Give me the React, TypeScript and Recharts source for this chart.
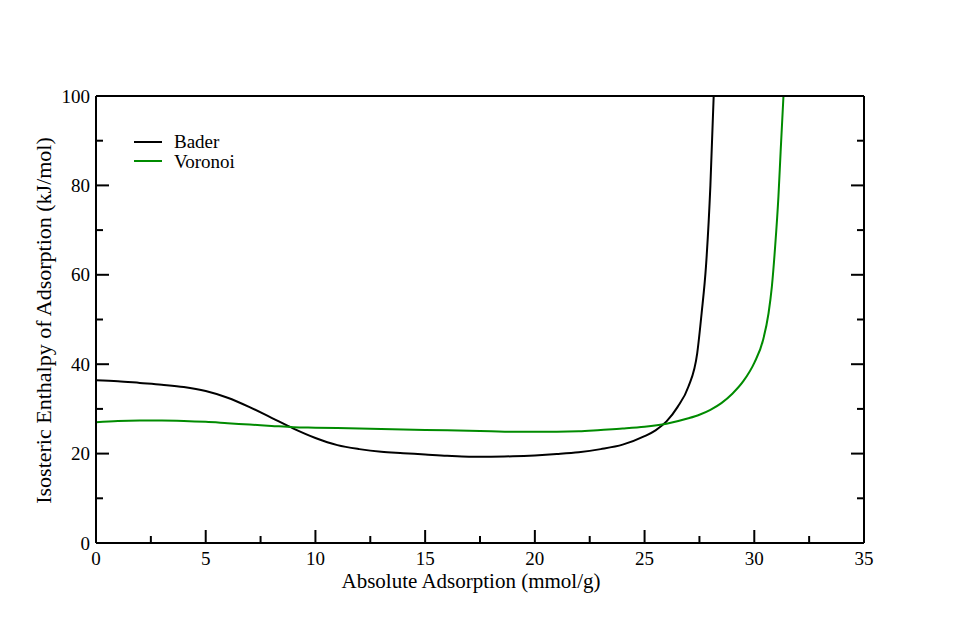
import { Label, Legend, Line, LineChart, XAxis, YAxis } from "recharts";

// Bader curve (mmol/g, kJ/mol)
const baderX = [0, 1, 2, 3, 4, 5, 6, 7, 8, 9, 10, 11, 12, 13, 14, 15, 16, 17, 18, 19, 20, 21, 22, 23, 24, 25, 25.5, 26, 26.5, 27, 27.4, 27.6, 27.8, 28, 28.15];
const baderY = [36.4, 36.2, 35.8, 35.4, 34.9, 34.0, 32.5, 30.4, 28.0, 25.6, 23.5, 21.9, 21.0, 20.4, 20.1, 19.8, 19.5, 19.3, 19.3, 19.4, 19.6, 19.9, 20.3, 21.0, 22.0, 23.9, 25.2, 27.2, 30.4, 35.0, 42.5, 51.4, 62.0, 80.0, 100];

// Voronoi curve
const voronoiX = [0, 1, 2, 3, 4, 5, 6, 7, 8, 9, 10, 11, 12, 13, 14, 15, 16, 17, 18, 19, 20, 21, 22, 23, 24, 25, 26, 27, 27.5, 28, 28.5, 29, 29.5, 30, 30.4, 30.65, 30.8, 30.95, 31.1, 31.2, 31.33];
const voronoiY = [27.0, 27.3, 27.4, 27.4, 27.3, 27.1, 26.8, 26.5, 26.2, 25.9, 25.8, 25.7, 25.6, 25.5, 25.4, 25.3, 25.2, 25.1, 25.0, 24.9, 24.9, 24.9, 25.0, 25.3, 25.6, 26.0, 26.7, 27.9, 28.7, 29.8, 31.3, 33.4, 36.2, 40.3, 45.4, 51.4, 57.3, 66.3, 77.5, 87.5, 100];

const xMajorTicks = [0, 5, 10, 15, 20, 25, 30, 35];
const xMinorTicks = [2.5, 7.5, 12.5, 17.5, 22.5, 27.5, 32.5];
const yMajorTicks = [0, 20, 40, 60, 80, 100];
const yMinorTicks = [10, 30, 50, 70, 90];

const bader = baderX.map((x, i) => ({ x, y: baderY[i] }));
const voronoi = voronoiX.map((x, i) => ({ x, y: voronoiY[i] }));
const xTicks = [...xMajorTicks, ...xMinorTicks].sort((a, b) => a - b);
const yTicks = [...yMajorTicks, ...yMinorTicks].sort((a, b) => a - b);

const FONT = '"Liberation Serif", "Times New Roman", serif';
const MAJOR_LEN = 13;
const MINOR_LEN = 7;

// ticks point into the plot, grace style
function XTick({ x, y, payload, dir, showLabel }: any) {
    const major = xMajorTicks.includes(payload.value);
    const len = major ? MAJOR_LEN : MINOR_LEN;
    return (
        <g>
            <line x1={x} x2={x} y1={y} y2={y + dir * len} stroke="#000" strokeWidth={2} />
            {showLabel && major && (
                <text x={x} y={y + 22} textAnchor="middle" fontSize={19} fill="#000" fontFamily={FONT}>
                    {payload.value}
                </text>
            )}
        </g>
    );
}

function YTick({ x, y, payload, dir, showLabel }: any) {
    const major = yMajorTicks.includes(payload.value);
    const len = major ? MAJOR_LEN : MINOR_LEN;
    return (
        <g>
            <line x1={x} x2={x + dir * len} y1={y} y2={y} stroke="#000" strokeWidth={2} />
            {showLabel && major && (
                <text x={x - 6} y={y} dy="0.35em" textAnchor="end" fontSize={19} fill="#000" fontFamily={FONT}>
                    {payload.value}
                </text>
            )}
        </g>
    );
}

function GraceLegend({ payload }: any) {
    return (
        <div style={{ fontFamily: FONT, fontSize: 19, color: "#000" }}>
            {(payload || []).map((entry: any) => (
                <div key={entry.value} style={{ display: "flex", alignItems: "center", height: 19.5 }}>
                    <svg width={28} height={4}>
                        <line x1={0} x2={28} y1={2} y2={2} stroke={entry.color} strokeWidth={2} />
                    </svg>
                    <span style={{ marginLeft: 12, lineHeight: "19.5px" }}>{entry.value}</span>
                </div>
            ))}
        </div>
    );
}

export default function App() {
    const axisLine = { stroke: "#000", strokeWidth: 2 };
    return (
        <div style={{ position: "absolute", left: 0, top: 0, fontFamily: FONT, background: "#fff" }}>
            <LineChart width={960} height={640} margin={{ top: 86, right: 76, bottom: 67, left: 36 }}>
                <XAxis
                    xAxisId="bottom"
                    dataKey="x"
                    type="number"
                    domain={[0, 35]}
                    ticks={xTicks}
                    interval={0}
                    allowDataOverflow
                    height={30}
                    tickSize={0}
                    tickMargin={0}
                    stroke="#000"
                    axisLine={axisLine}
                    tickLine={false}
                    tick={(p: any) => <XTick {...p} dir={-1} showLabel />}
                >
                    <Label
                        content={({ viewBox }: any) => (
                            <text
                                x={viewBox.x + viewBox.width / 2 - 9}
                                y={viewBox.y + 45}
                                textAnchor="middle"
                                fontSize={21}
                                fill="#000"
                                fontFamily={FONT}
                            >
                                Absolute Adsorption (mmol/g)
                            </text>
                        )}
                    />
                </XAxis>
                <XAxis
                    xAxisId="top"
                    orientation="top"
                    type="number"
                    domain={[0, 35]}
                    ticks={xTicks}
                    interval={0}
                    allowDataOverflow
                    height={10}
                    tickSize={0}
                    tickMargin={0}
                    stroke="#000"
                    axisLine={axisLine}
                    tickLine={false}
                    tick={(p: any) => <XTick {...p} dir={1} />}
                />
                <YAxis
                    yAxisId="left"
                    type="number"
                    domain={[0, 100]}
                    ticks={yTicks}
                    interval={0}
                    allowDataOverflow
                    width={60}
                    tickSize={0}
                    tickMargin={0}
                    stroke="#000"
                    axisLine={axisLine}
                    tickLine={false}
                    tick={(p: any) => <YTick {...p} dir={1} showLabel />}
                >
                    <Label
                        content={({ viewBox }: any) => {
                            const cx = viewBox.x + 7;
                            const cy = viewBox.y + viewBox.height / 2 + 1;
                            return (
                                <text
                                    x={cx}
                                    y={cy}
                                    dy="0.35em"
                                    transform={`rotate(-90, ${cx}, ${cy})`}
                                    textAnchor="middle"
                                    fontSize={22}
                                    fill="#000"
                                    fontFamily={FONT}
                                >
                                    Isosteric Enthalpy of Adsorption (kJ/mol)
                                </text>
                            );
                        }}
                    />
                </YAxis>
                <YAxis
                    yAxisId="right"
                    orientation="right"
                    type="number"
                    domain={[0, 100]}
                    ticks={yTicks}
                    interval={0}
                    allowDataOverflow
                    width={20}
                    tickSize={0}
                    tickMargin={0}
                    stroke="#000"
                    axisLine={axisLine}
                    tickLine={false}
                    tick={(p: any) => <YTick {...p} dir={-1} />}
                />
                <Legend
                    layout="vertical"
                    align="center"
                    verticalAlign="middle"
                    content={<GraceLegend />}
                    wrapperStyle={{ left: 134, top: 132, width: "auto", height: "auto" }}
                />
                <Line
                    xAxisId="bottom"
                    yAxisId="left"
                    data={bader}
                    dataKey="y"
                    name="Bader"
                    type="monotone"
                    stroke="#000"
                    strokeWidth={2}
                    dot={false}
                    isAnimationActive={false}
                />
                <Line
                    xAxisId="bottom"
                    yAxisId="left"
                    data={voronoi}
                    dataKey="y"
                    name="Voronoi"
                    type="monotone"
                    stroke="#008b00"
                    strokeWidth={2}
                    dot={false}
                    isAnimationActive={false}
                />
            </LineChart>
        </div>
    );
}
